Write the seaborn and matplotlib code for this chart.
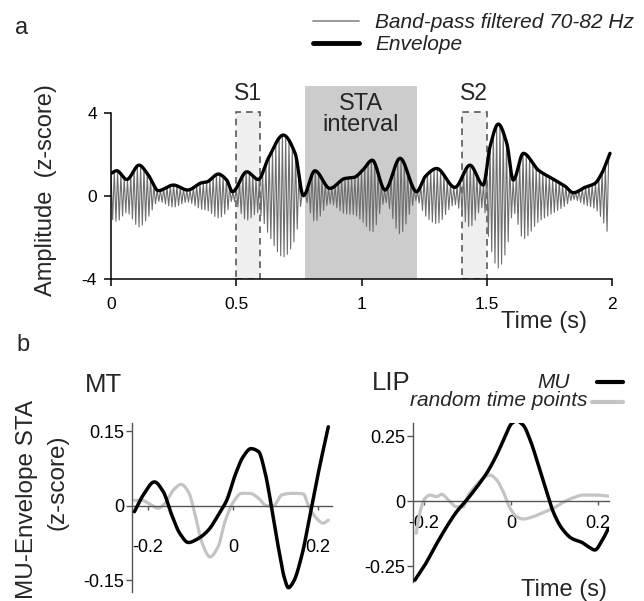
import numpy as np
import pandas as pd
import matplotlib
matplotlib.use("Agg")
import matplotlib.pyplot as plt
import seaborn as sns
from matplotlib.lines import Line2D
from matplotlib.patches import Rectangle

# ---------------- data ----------------
# Panel a: envelope of the band-pass filtered signal
env_t = [0.000, 0.023, 0.063, 0.112, 0.149, 0.189, 0.249, 0.306, 0.362, 0.382,
         0.428, 0.462, 0.485, 0.542, 0.588, 0.628, 0.688, 0.735, 0.768, 0.814,
         0.874, 0.934, 0.970, 1.005, 1.043, 1.094, 1.154, 1.220, 1.255, 1.300,
         1.373, 1.433, 1.486, 1.513, 1.546, 1.580, 1.606, 1.646, 1.706, 1.772,
         1.812, 1.846, 1.892, 1.932, 1.959, 1.992]
env_v = [1.09, 1.22, 0.80, 1.49, 1.01, 0.26, 0.53, 0.29, 0.64, 0.68,
         1.06, 0.77, 0.21, 1.17, 0.80, 1.82, 2.94, 2.06, 0.02, 1.22,
         0.37, 0.85, 0.90, 1.25, 1.73, 0.29, 1.82, 0.21, 0.95, 1.33,
         0.42, 1.49, 0.53, 2.38, 3.47, 2.54, 0.77, 2.06, 1.25, 0.77,
         0.48, 0.16, 0.42, 0.61, 1.09, 2.06]
carrier_hz = 76  # centre of the 70-82 Hz band
s1_window = (0.5, 0.595)
s2_window = (1.4, 1.5)
sta_window = (0.775, 1.22)
a_xticks = [0, 0.5, 1, 1.5, 2]
a_xticklabels = ["0", "0.5", "1", "1.5", "2"]
a_yticks = [-4, 0, 4]
a_yticklabels = ["-4", "0", "4"]

# Panel b: MT
mt_mu_x = [-0.232, -0.211, -0.185, -0.164, -0.144, -0.125, -0.105, -0.082, -0.058,
           -0.035, -0.015, 0.005, 0.024, 0.042, 0.060, 0.075, 0.091, 0.107, 0.121,
           0.130, 0.142, 0.162, 0.181, 0.201, 0.224]
mt_mu_y = [-0.012, 0.022, 0.048, 0.028, -0.019, -0.056, -0.074, -0.066, -0.049,
           -0.019, 0.011, 0.062, 0.099, 0.115, 0.109, 0.068, -0.005, -0.086, -0.146,
           -0.165, -0.153, -0.099, -0.019, 0.068, 0.159]
mt_rnd_x = [-0.232, -0.215, -0.195, -0.176, -0.160, -0.140, -0.122, -0.105, -0.089,
            -0.074, -0.054, -0.035, -0.019, 0.001, 0.020, 0.040, 0.060, 0.079, 0.095,
            0.115, 0.138, 0.165, 0.177, 0.193, 0.212, 0.224]
mt_rnd_y = [0.011, 0.011, 0.003, -0.005, 0.005, 0.032, 0.043, 0.028, -0.019,
            -0.072, -0.103, -0.082, -0.032, 0.008, 0.025, 0.025, 0.015, 0.0, 0.0,
            0.022, 0.025, 0.024, 0.001, -0.022, -0.035, -0.029]
# Panel b: LIP
lip_mu_x = [-0.221, -0.198, -0.175, -0.148, -0.125, -0.102, -0.075, -0.056, -0.033,
            -0.014, 0.002, 0.013, 0.028, 0.044, 0.063, 0.082, 0.097, 0.117, 0.140,
            0.163, 0.178, 0.193, 0.208, 0.224]
lip_mu_y = [-0.304, -0.246, -0.176, -0.099, -0.041, 0.004, 0.062, 0.107, 0.177,
            0.247, 0.299, 0.308, 0.292, 0.235, 0.138, 0.036, -0.041, -0.105, -0.144,
            -0.159, -0.176, -0.188, -0.156, -0.105]
lip_rnd_x = [-0.218, -0.209, -0.198, -0.186, -0.171, -0.159, -0.144, -0.125, -0.110,
             -0.098, -0.079, -0.060, -0.048, -0.033, -0.018, -0.002, 0.013, 0.028,
             0.051, 0.074, 0.097, 0.120, 0.143, 0.166, 0.197, 0.224]
lip_rnd_y = [-0.124, -0.041, 0.010, 0.023, 0.017, 0.026, 0.004, -0.022, -0.022,
             0.023, 0.062, 0.093, 0.100, 0.081, 0.036, -0.028, -0.060, -0.069,
             -0.060, -0.044, -0.028, -0.005, 0.013, 0.023, 0.023, 0.019]
b_xticks = [-0.2, 0, 0.2]
b_xticklabels = ["-0.2", "0", "0.2"]
mt_yticks = [-0.15, 0, 0.15]
mt_yticklabels = ["-0.15", "0", "0.15"]
lip_yticks = [-0.25, 0, 0.25]
lip_yticklabels = ["-0.25", "0", "0.25"]


def pchip(x, y, xn):
    """Monotone cubic curve through the read points (for smooth drawing)."""
    x = np.asarray(x, float)
    y = np.asarray(y, float)
    xn = np.asarray(xn, float)
    h = np.diff(x)
    d = np.diff(y) / h
    m = np.zeros_like(y)
    for k in range(1, len(x) - 1):
        if d[k - 1] * d[k] > 0:
            w1 = 2 * h[k] + h[k - 1]
            w2 = h[k] + 2 * h[k - 1]
            m[k] = (w1 + w2) / (w1 / d[k - 1] + w2 / d[k])
    m[0] = d[0]
    m[-1] = d[-1]
    idx = np.clip(np.searchsorted(x, xn) - 1, 0, len(x) - 2)
    t = (xn - x[idx]) / h[idx]
    h00 = 2 * t**3 - 3 * t**2 + 1
    h10 = t**3 - 2 * t**2 + t
    h01 = -2 * t**3 + 3 * t**2
    h11 = t**3 - t**2
    return h00 * y[idx] + h10 * h[idx] * m[idx] + h01 * y[idx + 1] + h11 * h[idx] * m[idx + 1]


def smooth_df(x, y, n=400):
    xs = np.linspace(x[0], x[-1], n)
    return pd.DataFrame({"x": xs, "y": pchip(x, y, xs)})


sns.set_theme(style="white")
plt.rcParams["font.family"] = ["Liberation Sans", "DejaVu Sans"]
plt.rcParams["axes.unicode_minus"] = False

W, H = 644, 601
fig = plt.figure(figsize=(W / 100, H / 100), dpi=100)


def fx(px):
    return px / W


def fy(py):
    return 1 - py / H


# ---------------- panel a ----------------
axA = fig.add_axes([fx(111), fy(279), fx(612) - fx(111), fy(82) - fy(279)])
axA.set_xlim(0, 2)
axA.set_ylim(-4, 5.5)

axA.add_patch(Rectangle((sta_window[0], -4), sta_window[1] - sta_window[0], 9.3,
                        facecolor="#cccccc", edgecolor="none", zorder=0))
for w in (s1_window, s2_window):
    axA.add_patch(Rectangle((w[0], -4), w[1] - w[0], 8.05, facecolor="#efefef",
                            edgecolor="#5a5a5a", linestyle=(0, (4, 3)), linewidth=1.2,
                            zorder=0.5))

# filtered signal: envelope-modulated carrier, sampled at its half-cycle peaks
tk = np.arange(0, env_t[-1], 1 / (2 * carrier_hz))
sign = np.where(np.arange(len(tk)) % 2 == 0, 1.0, -1.0)
sig = pd.DataFrame({"t": tk, "v": pchip(env_t, env_v, tk) * sign})
sns.lineplot(data=sig, x="t", y="v", ax=axA, color="#6e6e6e", linewidth=0.8,
             estimator=None, sort=False, zorder=2)
envdf = smooth_df(env_t, env_v, 1200)
sns.lineplot(data=envdf, x="x", y="y", ax=axA, color="black", linewidth=2.4,
             estimator=None, sort=False, zorder=3)

for s in ("top", "right"):
    axA.spines[s].set_visible(False)
axA.spines["left"].set_bounds(-4, 4)
axA.spines["bottom"].set_bounds(0, 2)
for s in ("left", "bottom"):
    axA.spines[s].set_color("black")
    axA.spines[s].set_linewidth(1.1)
axA.set_xticks(a_xticks)
axA.set_xticklabels(a_xticklabels)
axA.set_yticks(a_yticks)
axA.set_yticklabels(a_yticklabels)
axA.tick_params(axis="both", direction="out", length=5, width=1.1, colors="black",
                labelsize=12.5, left=True, bottom=True)
axA.tick_params(axis="x", pad=8)
axA.tick_params(axis="y", pad=5)
axA.set_xlabel("")
axA.set_ylabel("")

axA.text(np.mean(s1_window), 4.93, "S1", ha="center", va="center", fontsize=16.5)
axA.text(np.mean(s2_window), 4.93, "S2", ha="center", va="center", fontsize=16.5)
axA.text(np.mean(sta_window), 3.95, "STA\ninterval", ha="center", va="center",
         fontsize=17, linespacing=0.95, zorder=1)

fig.text(fx(46.5), fy(190), "Amplitude  (z-score)", rotation=90, ha="center",
         va="center", fontsize=17)
fig.text(fx(587), fy(322), "Time (s)", ha="right", va="center", fontsize=17)
fig.text(fx(15), fy(33.5), "a", ha="left", va="baseline", fontsize=17)

# legend for panel a
fig.add_artist(Line2D([fx(313), fx(359)], [fy(20.7)] * 2, color="#888888",
                      linewidth=1.2, transform=fig.transFigure))
fig.add_artist(Line2D([fx(313), fx(359)], [fy(42.7)] * 2, color="black",
                      linewidth=3.5, transform=fig.transFigure))
fig.text(fx(375), fy(28.5), "Band-pass filtered 70-82 Hz", style="italic",
         fontsize=15, ha="left", va="baseline", color="#222222")
fig.text(fx(375), fy(50), "Envelope", style="italic", fontsize=15, ha="left",
         va="baseline", color="#222222")

# ---------------- panel b ----------------
def style_b(ax, yticks, yticklabels, xpad):
    for s in ("top", "right"):
        ax.spines[s].set_visible(False)
    ax.spines["bottom"].set_position(("data", 0))
    for s in ("left", "bottom"):
        ax.spines[s].set_color("#555555")
        ax.spines[s].set_linewidth(1.0)
    ax.set_xticks(b_xticks)
    ax.set_xticklabels(b_xticklabels)
    ax.set_yticks(yticks)
    ax.set_yticklabels(yticklabels)
    ax.tick_params(axis="both", direction="out", colors="#555555", labelcolor="black",
                   labelsize=13, left=True, bottom=True, width=1.0)
    ax.tick_params(axis="y", length=4.5, pad=1.5)
    ax.tick_params(axis="x", length=3, pad=xpad)
    ax.set_xlabel("")
    ax.set_ylabel("")


axMT = fig.add_axes([fx(132.3), fy(591.7), fx(331.7) - fx(132.3), fy(423.3) - fy(591.7)])
axMT.set_xlim(-0.237, 0.232)
axMT.set_ylim(-0.173, 0.166)
sns.lineplot(data=smooth_df(mt_rnd_x, mt_rnd_y), x="x", y="y", ax=axMT,
             color="#c4c4c4", linewidth=2.3, estimator=None, sort=False, zorder=2)
sns.lineplot(data=smooth_df(mt_mu_x, mt_mu_y), x="x", y="y", ax=axMT,
             color="black", linewidth=2.5, estimator=None, sort=False, zorder=3)
style_b(axMT, mt_yticks, mt_yticklabels, 21)

axLIP = fig.add_axes([fx(413.3), fy(581.7), fx(609.3) - fx(413.3), fy(423.3) - fy(581.7)])
axLIP.set_xlim(-0.2246, 0.226)
axLIP.set_ylim(-0.310, 0.299)
sns.lineplot(data=smooth_df(lip_rnd_x, lip_rnd_y), x="x", y="y", ax=axLIP,
             color="#c4c4c4", linewidth=2.3, estimator=None, sort=False, zorder=2)
sns.lineplot(data=smooth_df(lip_mu_x, lip_mu_y), x="x", y="y", ax=axLIP,
             color="black", linewidth=2.5, estimator=None, sort=False, zorder=3)
style_b(axLIP, lip_yticks, lip_yticklabels, 7)

fig.text(fx(85), fy(391.7), "MT", ha="left", va="baseline", fontsize=18.5)
fig.text(fx(371.7), fy(390), "LIP", ha="left", va="baseline", fontsize=18.5)
fig.text(fx(16), fy(350.7), "b", ha="left", va="baseline", fontsize=17)
fig.text(fx(27), fy(499.5), "MU-Envelope STA", rotation=90, ha="center",
         va="center", fontsize=17.5)
fig.text(fx(57), fy(482), "(z-score)", rotation=90, ha="center", va="center",
         fontsize=17.5)
fig.text(fx(607), fy(590), "Time (s)", ha="right", va="center", fontsize=17)

# legend for panel b
fig.add_artist(Line2D([fx(597), fx(623)], [fy(381.7)] * 2, color="black",
                      linewidth=3.0, transform=fig.transFigure))
fig.add_artist(Line2D([fx(592), fx(623)], [fy(401.7)] * 2, color="#c4c4c4",
                      linewidth=3.0, transform=fig.transFigure))
fig.text(fx(570), fy(388.3), "MU", style="italic", fontsize=15, ha="right",
         va="baseline")
fig.text(fx(588), fy(406), "random time points", style="italic", fontsize=15,
         ha="right", va="baseline")

fig.savefig("out.png", dpi=100)
